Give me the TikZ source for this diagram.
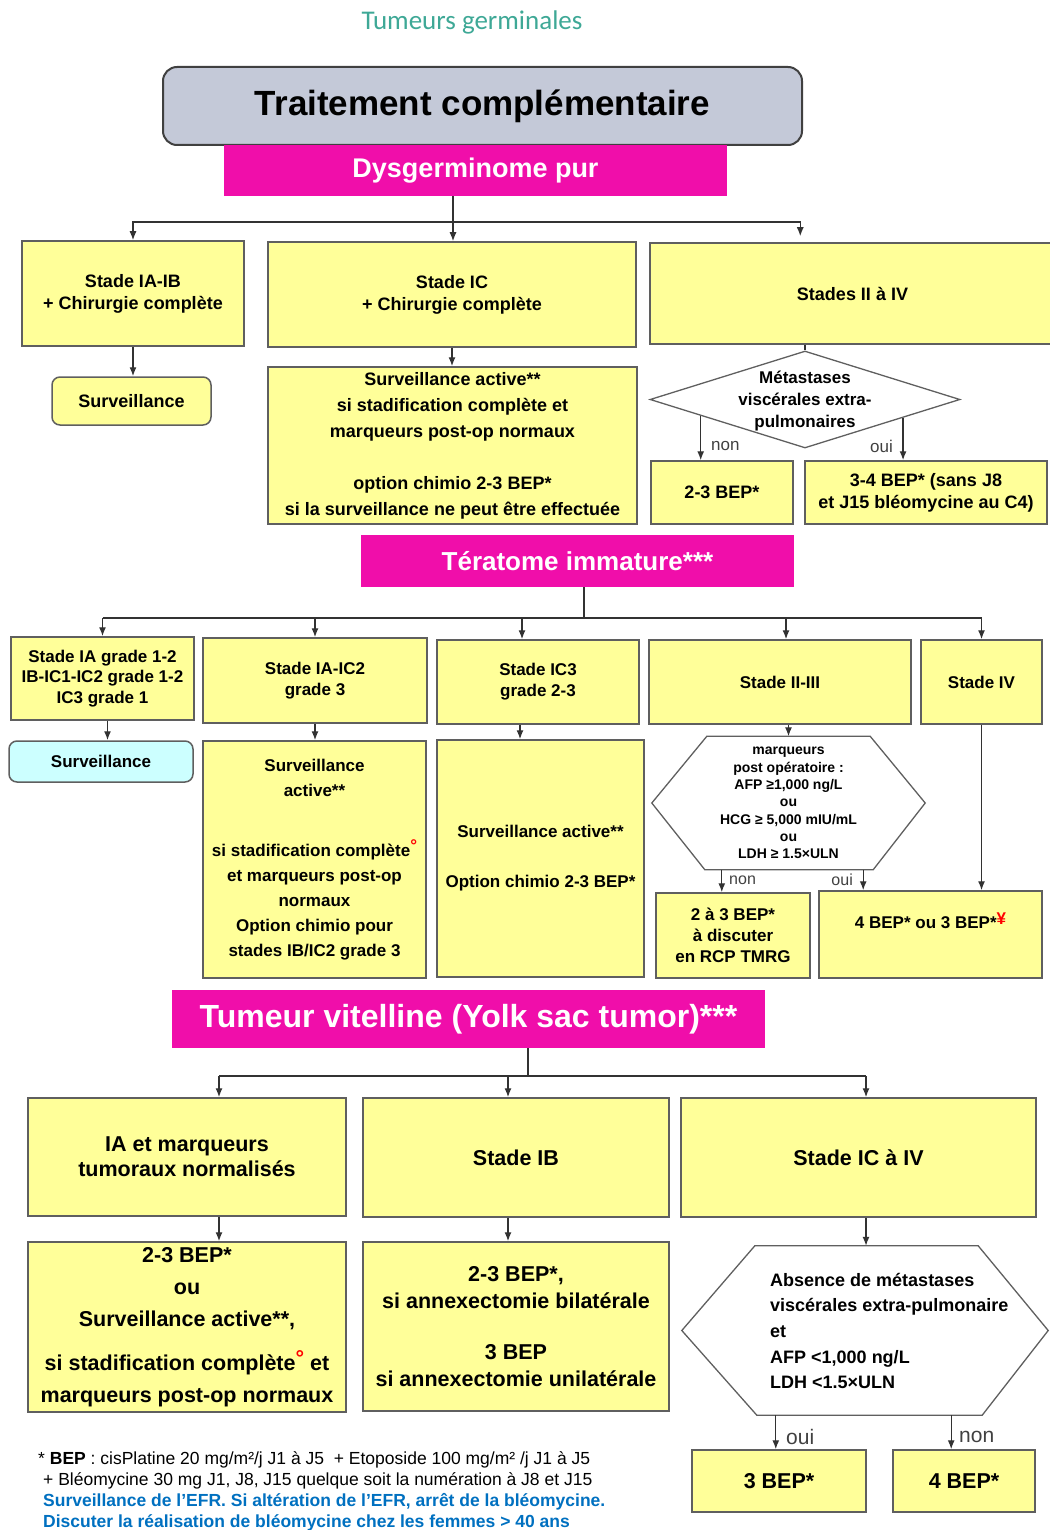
\documentclass[tikz,border=0pt]{standalone}
\usepackage{fontspec}
\setmainfont{Liberation Sans}
\newfontfamily\titlefont{Carlito}
\usepackage{tikz}
\usetikzlibrary{arrows.meta,calc,shapes.geometric}
\definecolor{boxfill}{RGB}{255,255,153}
\definecolor{boxline}{RGB}{95,95,95}
\definecolor{headfill}{RGB}{196,201,216}
\definecolor{pinkfill}{RGB}{240,14,170}
\definecolor{cyanfill}{RGB}{204,255,255}
\definecolor{tealtext}{RGB}{62,168,150}
\definecolor{bluenote}{RGB}{0,112,192}
\definecolor{wiregray}{RGB}{50,50,50}
\newcommand{\reddeg}{\textcolor{red}{\raisebox{5pt}{°}}}
\tikzset{
  box/.style={draw=boxline, fill=boxfill, line width=1.5pt, align=center, inner sep=0pt,
    font=\bfseries\fontsize{18}{22}\selectfont},
  bigbox/.style={box, font=\bfseries\fontsize{21.5}{25}\selectfont},
  pinkbar/.style={fill=pinkfill, text=white, inner sep=0pt},
  wire/.style={draw=wiregray, line width=1.3pt},
  arr/.style={wire, -{Latex[length=9pt,width=7pt]}},
  lab/.style={font=\fontsize{17}{20}\selectfont, text=black!75, inner sep=0pt},
  hexline/.style={draw=boxline, line width=1.3pt},
}
\begin{document}
\begin{tikzpicture}[x=1pt,y=-1pt]
\useasboundingbox (0,0) rectangle (1049,1530);

\node[font=\titlefont\fontsize{27}{32}\selectfont, text=tealtext] (title) at (472,22) {Tumeurs germinales};
\node[draw=black!75, fill=headfill, line width=2pt, rounded corners=14pt, minimum width=639pt, minimum height=78pt,
  font=\bfseries\fontsize{35}{40}\selectfont] (head) at (482.5,106) {Traitement complémentaire};

% Dysgerminome pur
\node[pinkbar, minimum width=503pt, minimum height=51pt, font=\bfseries\fontsize{27}{32}\selectfont] (dysg) at (475.5,170.5) {Dysgerminome pur};
\node[box, minimum width=222pt, minimum height=105pt] (a1) at (133,293.5) {Stade IA-IB\\+ Chirurgie complète};
\node[box, minimum width=368pt, minimum height=105pt] (a2) at (452,294.5) {Stade IC\\+ Chirurgie complète};
\node[box, minimum width=405pt, minimum height=101pt] (a3) at (852.5,293.5) {Stades II à IV};
\node[box, rounded corners=8pt, minimum width=159pt, minimum height=48pt] (surv1) at (131.5,401) {Surveillance};
\node[box, minimum width=369pt, minimum height=157pt, font=\bfseries\fontsize{18}{26}\selectfont] (a2s) at (452.5,445.5)
  {Surveillance active**\\si stadification complète et\\marqueurs post-op normaux\\[26pt]option chimio 2-3 BEP*\\si la surveillance ne peut être effectuée};
\node[diamond, hexline, minimum width=310pt, minimum height=97pt, inner sep=0pt] (meta) at (805,399.5) {};
\node[font=\bfseries\fontsize{17}{22}\selectfont, align=center, inner sep=0pt] (metatxt) at (805,401) {Métastases\\viscérales extra-\\pulmonaires};
\node[box, minimum width=142pt, minimum height=63pt] (b23) at (722,492.5) {2-3 BEP*};
\node[box, minimum width=242pt, minimum height=63pt] (b34) at (926,492.5) {3-4 BEP* (sans J8\\et J15 bléomycine au C4)};

\coordinate (ja) at (453,222);
\draw[wire] (dysg.south -| ja) -- (ja);
\draw[arr] (ja) -- (a2.north -| ja);
\draw[arr] (ja) -| (a1.north);
\draw[arr] (ja) -| ($(a3.north west)+(151,-6)$);
\draw[arr] (a1.south) -- (a1.south |- surv1.north);
\draw[arr] (a2.south) -- (a2.south |- a2s.north);
\draw[wire] (meta.north |- a3.south) -- (meta.north);
\coordinate (mnon) at ($(meta.west)!0.33!(meta.south)$);
\coordinate (moui) at ($(meta.east)!0.37!(meta.south)$);
\draw[arr] (mnon) -- (mnon |- b23.north);
\draw[arr] (moui) -- (moui |- b34.north);
\node[lab, anchor=west] (lnon) at (711,446) {non};
\node[lab, anchor=east] (loui) at (893,446) {oui};

% Teratome immature
\node[pinkbar, minimum width=433pt, minimum height=52pt, font=\bfseries\fontsize{26}{30}\selectfont] (tera) at (577.5,561) {Tératome immature***};
\node[box, minimum width=183pt, minimum height=83pt, font=\bfseries\fontsize{17}{20.5}\selectfont] (t1) at (102.5,678.5) {Stade IA grade 1-2\\IB-IC1-IC2 grade 1-2\\IC3 grade 1};
\node[box, minimum width=224pt, minimum height=85pt, font=\bfseries\fontsize{17}{21}\selectfont] (t2) at (315,680.5) {Stade IA-IC2\\grade 3};
\node[box, minimum width=202pt, minimum height=84pt, font=\bfseries\fontsize{17}{21}\selectfont] (t3) at (538,682) {Stade IC3\\grade 2-3};
\node[box, minimum width=262pt, minimum height=84pt, font=\bfseries\fontsize{17}{21}\selectfont] (t4) at (780,682) {Stade II-III};
\node[box, minimum width=121pt, minimum height=84pt, font=\bfseries\fontsize{17}{21}\selectfont] (t5) at (981.5,682) {Stade IV};
\node[box, fill=cyanfill, rounded corners=8pt, minimum width=184pt, minimum height=41pt, font=\bfseries\fontsize{17}{21}\selectfont] (surv2) at (101,761.5) {Surveillance};
\node[box, minimum width=223pt, minimum height=237pt, font=\bfseries\fontsize{17}{25}\selectfont] (t2s) at (314.5,859.5)
  {Surveillance\\active**\\[35pt]si stadification complète\reddeg\\et marqueurs post-op\\normaux\\Option chimio pour\\stades IB/IC2 grade 3};
\node[box, minimum width=207pt, minimum height=237pt, font=\bfseries\fontsize{17}{25}\selectfont] (t3s) at (540.5,858.5)
  {Surveillance active**\\[25pt]Option chimio 2-3 BEP*};
\node[minimum width=273pt, minimum height=133pt, inner sep=0pt, align=center, font=\bfseries\fontsize{14}{17.3}\selectfont] (hex1) at (788.5,803)
  {marqueurs\\post opératoire :\\AFP ≥1,000 ng/L\\ou\\HCG ≥ 5,000 mIU/mL\\ou\\LDH ≥ 1.5×ULN};
\draw[hexline] (hex1.west) -- ($(hex1.north west)+(55,0)$) -- ($(hex1.north east)+(-55,0)$) -- (hex1.east)
  -- ($(hex1.south east)+(-52,0)$) -- ($(hex1.south west)+(53,0)$) -- cycle;
\node[box, minimum width=154pt, minimum height=85pt, font=\bfseries\fontsize{17}{21}\selectfont] (b2a3) at (733,935.5) {2 à 3 BEP*\\à discuter\\en RCP TMRG};
\node[box, minimum width=223pt, minimum height=87pt, font=\bfseries\fontsize{17}{21}\selectfont] (b4) at (930.5,934.5)
  {4 BEP* ou 3 BEP*\textcolor{red}{\raisebox{4pt}{¥}}\\[0pt]\strut};

\coordinate (jt) at (584,618);
\draw[wire] (tera.south -| jt) -- (jt);
\draw[wire] (jt -| t1.north) -- (jt -| t5.north);
\draw[arr] (jt -| t1.north) -- (t1.north);
\draw[arr] (jt -| t2.north) -- (t2.north);
\draw[arr] (jt -| t3.north) ++(-16,0) -- ($(t3.north)+(-16,0)$);
\draw[arr] (jt -| t4.north) ++(6,0) -- ($(t4.north)+(6,0)$);
\draw[arr] (jt -| t5.north) -- (t5.north);
\draw[arr] ($(t1.south)+(5,0)$) -- ($(t1.south |- surv2.north)+(5,0)$);
\draw[arr] (t2.south) -- (t2.south |- t2s.north);
\draw[arr] ($(t3.south)+(-18,0)$) -- ($(t3.south |- t3s.north)+(-18,0)$);
\draw[arr] (hex1.north |- t4.south) -- (hex1.north);
\coordinate (hnon) at ($(hex1.south west)+(70,0)$);
\coordinate (houi) at ($(hex1.south east)+(-62,0)$);
\draw[arr] (hnon) -- (hnon |- b2a3.north);
\draw[arr] (houi) -- (houi |- b4.north);
\draw[arr] (t5.south) -- (t5.south |- b4.north);
\node[lab, font=\fontsize{16}{19}\selectfont, anchor=west] (hlnon) at (729,880) {non};
\node[lab, font=\fontsize{16}{19}\selectfont, anchor=east] (hloui) at (853,880) {oui};

% Tumeur vitelline
\node[pinkbar, minimum width=593pt, minimum height=58pt, font=\bfseries\fontsize{32}{36}\selectfont] (vite) at (468.5,1019) {Tumeur vitelline (Yolk sac tumor)***};
\node[bigbox, minimum width=318pt, minimum height=118pt] (v1) at (187,1157) {IA et marqueurs\\tumoraux normalisés};
\node[bigbox, minimum width=306pt, minimum height=119pt] (v2) at (516,1157.5) {Stade IB};
\node[bigbox, minimum width=355pt, minimum height=119pt] (v3) at (858.5,1157.5) {Stade IC à IV};
\node[bigbox, minimum width=318pt, minimum height=170pt, font=\bfseries\fontsize{21.5}{32}\selectfont] (v4) at (187,1327)
  {2-3 BEP*\\ou\\Surveillance active**,\\[12pt]si stadification complète\reddeg{} et\\marqueurs post-op normaux};
\node[bigbox, minimum width=306pt, minimum height=169pt, font=\bfseries\fontsize{21.5}{26.5}\selectfont] (v5) at (516,1326.5)
  {2-3 BEP*,\\si annexectomie bilatérale\\[25pt]3 BEP\\si annexectomie unilatérale};
\node[minimum width=366pt, minimum height=169pt, inner sep=0pt] (hex2) at (865,1330.5) {};
\draw[hexline] (hex2.west) -- ($(hex2.north west)+(73,0)$) -- ($(hex2.north east)+(-70,0)$) -- (hex2.east)
  -- ($(hex2.south east)+(-66,0)$) -- ($(hex2.south west)+(75,0)$) -- cycle;
\node[anchor=west, align=left, inner sep=0pt, font=\bfseries\fontsize{18}{25.7}\selectfont] (hex2txt) at (770,1331)
  {Absence de métastases\\viscérales extra-pulmonaire\\et\\AFP <1,000 ng/L\\LDH <1.5×ULN};
\node[bigbox, minimum width=174pt, minimum height=62pt] (b3) at (779,1481) {3 BEP*};
\node[bigbox, minimum width=142pt, minimum height=62pt] (b4b) at (964,1481) {4 BEP*};

\coordinate (jv) at (528,1076);
\draw[wire] (vite.south -| jv) -- (jv);
\draw[wire] ($(v1.north |- jv)+(32,0)$) -- ($(v3.north |- jv)+(7.5,0)$);
\draw[arr] ($(v1.north |- jv)+(32,0)$) -- ($(v1.north)+(32,0)$);
\draw[arr] ($(v2.north |- jv)+(-8,0)$) -- ($(v2.north)+(-8,0)$);
\draw[arr] ($(v3.north |- jv)+(7.5,0)$) -- ($(v3.north)+(7.5,0)$);
\draw[arr] ($(v1.south)+(32,0)$) -- ($(v4.north)+(32,0)$);
\draw[arr] ($(v2.south)+(-8,0)$) -- ($(v5.north)+(-8,0)$);
\draw[arr] ($(v3.south)+(7.5,0)$) -- ($(hex2.north)+(1,0)$);
\coordinate (xoui) at ($(hex2.south west)+(94,0)$);
\coordinate (xnon) at ($(hex2.south east)+(-97,0)$);
\draw[arr] (xoui) -- (xoui |- b3.north);
\draw[arr] (xnon) -- (xnon |- b4b.north);
\node[lab, font=\fontsize{21}{24}\selectfont, anchor=west] (xloui) at (786,1437) {oui};
\node[lab, font=\fontsize{21}{24}\selectfont, anchor=west] (xlnon) at (959,1437) {non};

\node[anchor=north west, align=left, inner sep=0pt, font=\fontsize{17.5}{21}\selectfont] (note) at (38,1451)
  {* \textbf{BEP} : cisPlatine 20 mg/m²/j J1 à J5~~+ Etoposide 100 mg/m² /j J1 à J5\\
   \hspace*{5pt}+ Bléomycine 30 mg J1, J8, J15 quelque soit la numération à J8 et J15\\
   \hspace*{5pt}\textcolor{bluenote}{\textbf{Surveillance de l'EFR. Si altération de l'EFR, arrêt de la bléomycine.}}\\
   \hspace*{5pt}\textcolor{bluenote}{\textbf{Discuter la réalisation de bléomycine chez les femmes > 40 ans}}};
\end{tikzpicture}
\end{document}
